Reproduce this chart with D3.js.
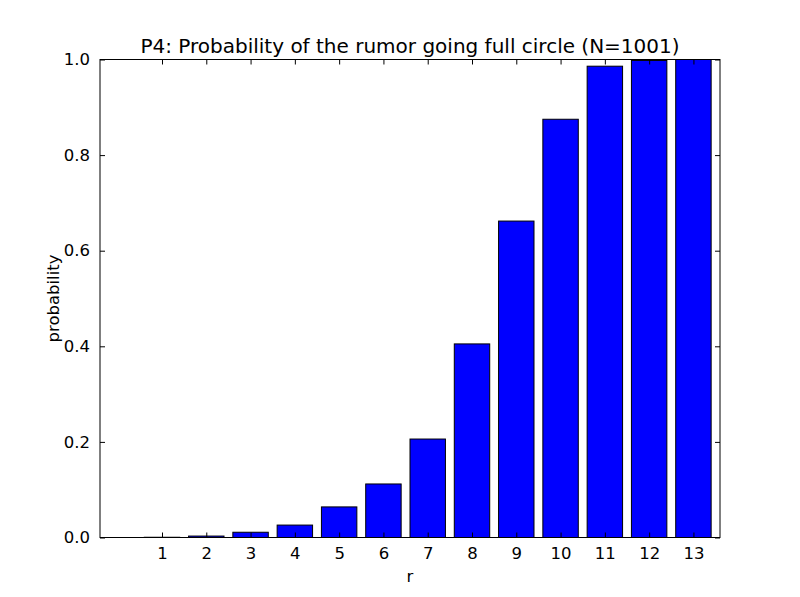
<!DOCTYPE html>
<html>
<head>
<meta charset="utf-8">
<title>P4 rumor</title>
<style>
  body { margin: 0; background: #fff; }
  svg text { font-family: "DejaVu Sans", sans-serif; fill: #000; }
</style>
</head>
<body>
<script src="https://d3js.org/d3.v7.min.js"></script>
<script>
// data
const rounds = [1, 2, 3, 4, 5, 6, 7, 8, 9, 10, 11, 12, 13];
const prob = [0.0005, 0.003, 0.011, 0.026, 0.064, 0.112, 0.206, 0.405, 0.662, 0.875, 0.986, 0.998, 1.0];
const yTicks = [0, 0.2, 0.4, 0.6, 0.8, 1.0];

const w = 800, h = 597;
const margin = {top: 59.5, right: 80, bottom: 59.5, left: 100};
const inner_w = w - margin.left - margin.right;
const inner_h = h - margin.top - margin.bottom;

const svg = d3.select('body').append('svg')
  .attr('width', w).attr('height', h);

const g = svg.append('g').attr('transform', `translate(${margin.left},${margin.top})`);

const x = d3.scaleLinear().domain([-0.4, 13.6]).range([0, inner_w]);
const y = d3.scaleLinear().domain([0, 1]).range([inner_h, 0]);
const barW = x(0.8) - x(0);

g.selectAll('rect.bar')
  .data(prob)
  .enter().append('rect')
  .attr('class', 'bar')
  .attr('x', (d, i) => x(rounds[i]) - barW / 2)
  .attr('y', d => y(d))
  .attr('width', barW)
  .attr('height', d => inner_h - y(d))
  .attr('fill', '#0000ff')
  .attr('stroke', '#000')
  .attr('stroke-width', 1);

// matplotlib style ticks: inward, on all four sides
const tickLen = 5;
const fmt = d3.format('.1f');

const xb = g.append('g').attr('transform', `translate(0,${inner_h})`)
  .call(d3.axisBottom(x).tickValues(rounds).tickFormat(d3.format('d')).tickSizeInner(-tickLen).tickSizeOuter(0).tickPadding(10));
const xt = g.append('g')
  .call(d3.axisTop(x).tickValues(rounds).tickFormat('').tickSizeInner(-tickLen).tickSizeOuter(0));
const yl = g.append('g')
  .call(d3.axisLeft(y).tickValues(yTicks).tickFormat(fmt).tickSizeInner(-tickLen).tickSizeOuter(0).tickPadding(10));
const yr = g.append('g').attr('transform', `translate(${inner_w},0)`)
  .call(d3.axisRight(y).tickValues(yTicks).tickFormat('').tickSizeInner(-tickLen).tickSizeOuter(0));

[xb, xt, yl, yr].forEach(a => {
  a.select('.domain').remove();
  a.selectAll('line').attr('stroke', '#000');
  a.selectAll('text').style('font-size', '16.5px').style('font-family', '"DejaVu Sans", sans-serif');
});

// frame
g.append('rect')
  .attr('width', inner_w).attr('height', inner_h)
  .attr('fill', 'none').attr('stroke', '#000').attr('stroke-width', 1);

svg.append('text')
  .attr('x', margin.left + inner_w / 2).attr('y', 53)
  .attr('text-anchor', 'middle').style('font-size', '20px')
  .text('P4: Probability of the rumor going full circle (N=1001)');

svg.append('text')
  .attr('x', margin.left + inner_w / 2).attr('y', 582)
  .attr('text-anchor', 'middle').style('font-size', '16.5px')
  .text('r');

svg.append('text')
  .attr('transform', `translate(59,${margin.top + inner_h / 2}) rotate(-90)`)
  .attr('text-anchor', 'middle').style('font-size', '16.5px')
  .text('probability');
</script>
</body>
</html>
